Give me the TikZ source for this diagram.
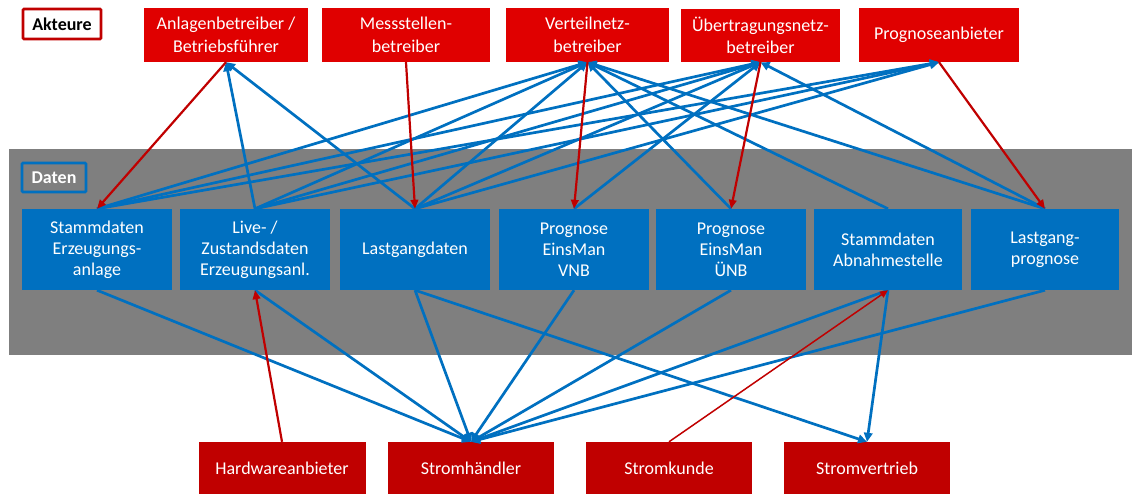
\documentclass[tikz,border=0pt]{standalone}
\usepackage{fontspec}
\setmainfont{Carlito}
\usetikzlibrary{arrows.meta}
\definecolor{topred}{RGB}{224,0,0}
\definecolor{darkred}{RGB}{192,0,0}
\definecolor{bblue}{RGB}{0,112,192}
\definecolor{band}{RGB}{127,127,127}
\newcommand\actfont{\fontsize{18}{22.5}\selectfont}
\newcommand\datfont{\fontsize{18}{20.8}\selectfont}
\begin{document}
\begin{tikzpicture}[x=1pt,y=-1pt,
  actor/.style={fill=topred, text=white, inner sep=0pt, align=center, font=\actfont, minimum height=54pt},
  lowactor/.style={fill=darkred, text=white, inner sep=0pt, align=center, font=\actfont, minimum height=52pt, minimum width=167pt},
  databox/.style={fill=bblue, text=white, inner sep=0pt, align=center, font=\datfont, minimum height=81pt, minimum width=150pt},
  bl/.style={draw=bblue, line width=2.7pt, -{Triangle[length=9pt,width=8.5pt]}},
  rd/.style={draw=darkred, line width=2.2pt, -{Triangle[length=9pt,width=7.5pt]}},
  rdthin/.style={draw=darkred, line width=1.5pt, -{Triangle[length=8pt,width=7pt]}}
]
\useasboundingbox (0,0) rectangle (1132,494);
\fill[band] (9,149) rectangle (1132,355);

% legend boxes
\node[draw=darkred, line width=2.7pt, rounded corners=1pt, fill=white, minimum width=78pt, minimum height=30pt, inner sep=0pt, font=\actfont\bfseries] (akt) at (62,24) {Akteure};
\node[draw=bblue, line width=2.7pt, rounded corners=1pt, fill=band, text=white, minimum width=64pt, minimum height=29pt, inner sep=0pt, font=\actfont\bfseries] (dat) at (54,177.5) {Daten};

% top actors
\node[actor, minimum width=164pt] (anl) at (226,35) {Anlagenbetreiber /\\Betriebsführer};
\node[actor, minimum width=168pt] (mess) at (406,35) {Messstellen-\\betreiber};
\node[actor, minimum width=163pt] (vert) at (587.5,35) {Verteilnetz-\\betreiber};
\node[actor, minimum width=159pt, minimum height=53pt] (uebt) at (760.5,35.5) {Übertragungsnetz-\\betreiber};
\node[actor, minimum width=160pt] (prog) at (939,35) {Prognoseanbieter};

% data
\node[databox] (d1) at (97,249.5) {Stammdaten\\Erzeugungs-\\anlage};
\node[databox] (d2) at (255,249.5) {Live- /\\Zustandsdaten\\Erzeugungsanl.};
\node[databox] (d3) at (415,249.5) {Lastgangdaten};
\node[databox] (d4) at (574,249.5) {Prognose\\EinsMan\\VNB};
\node[databox] (d5) at (731,249.5) {Prognose\\EinsMan\\ÜNB};
\node[databox, minimum width=148pt] (d6) at (888,249.5) {Stammdaten\\Abnahmestelle};
\node[databox, minimum width=148pt] (d7) at (1045,249.5) {Lastgang-\\prognose};

% bottom actors
\node[lowactor] (hw) at (282,468) {Hardwareanbieter};
\node[lowactor, minimum width=166pt] (sh) at (471,468) {Stromhändler};
\node[lowactor, minimum width=166pt] (sk) at (669,468) {Stromkunde};
\node[lowactor, minimum width=166pt] (sv) at (867,468) {Stromvertrieb};

% blue connectors to top actors
\draw[bl] (d1.north) -- (vert.south);
\draw[bl] (d1.north) -- (uebt.south);
\draw[bl] (d1.north) -- (prog.south);
\draw[bl] (d2.north) -- (anl.south);
\draw[bl] (d2.north) -- (vert.south);
\draw[bl] (d2.north) -- (uebt.south);
\draw[bl] (d2.north) -- (prog.south);
\draw[bl] (d3.north) -- (anl.south);
\draw[bl] (d3.north) -- (vert.south);
\draw[bl] (d3.north) -- (uebt.south);
\draw[bl] (d3.north) -- (prog.south);
\draw[bl] (d4.north) -- (uebt.south);
\draw[bl] (d5.north) -- (vert.south);
\draw[bl] (d6.north) -- (vert.south);
\draw[bl] (d7.north) -- (vert.south);
\draw[bl] (d7.north) -- (uebt.south);

% blue connectors to bottom actors
\draw[bl] (d1.south) -- (sh.north);
\draw[bl] (d2.south) -- (sh.north);
\draw[bl] (d3.south) -- (sh.north);
\draw[bl] (d3.south) -- (sv.north);
\draw[bl] (d4.south) -- (sh.north);
\draw[bl] (d5.south) -- (sh.north);
\draw[bl] (d6.south) -- (sh.north);
\draw[bl] (d6.south) -- (sv.north);
\draw[bl] (d7.south) -- (sh.north);

% red connectors
\draw[rd] (anl.south) -- (d1.north);
\draw[rd] (mess.south) -- (d3.north);
\draw[rd] (vert.south) -- (d4.north);
\draw[rd] (uebt.south) -- (d5.north);
\draw[rd] (prog.south) -- (d7.north);
\draw[rd] (hw.north) -- (d2.south);
\draw[rdthin] (sk.north) -- (d6.south);
\end{tikzpicture}
\end{document}
